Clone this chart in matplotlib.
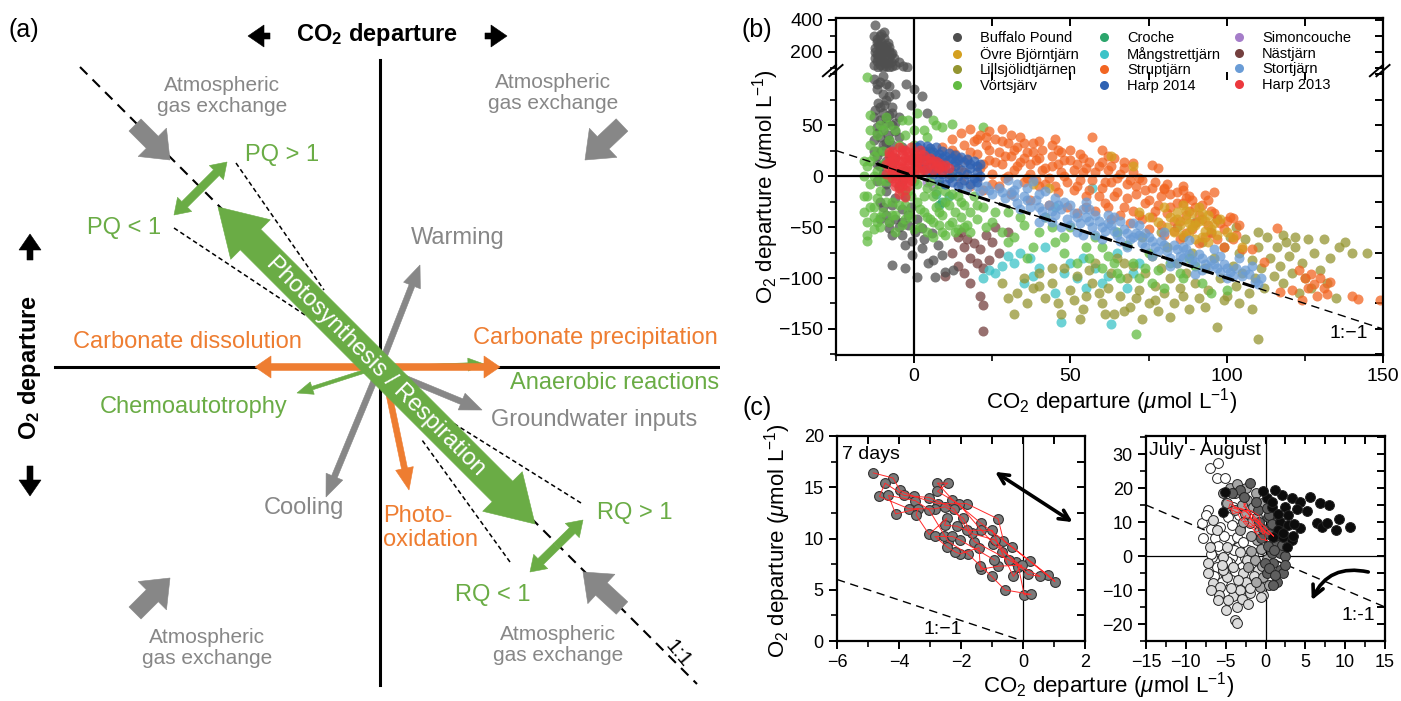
import numpy as np
import matplotlib.pyplot as plt
from matplotlib.patches import FancyArrow
from matplotlib.lines import Line2D
from matplotlib.ticker import MultipleLocator

plt.rcParams['font.family'] = ['Liberation Sans', 'DejaVu Sans']
plt.rcParams['mathtext.fontset'] = 'custom'
plt.rcParams['mathtext.rm'] = 'Liberation Sans'
plt.rcParams['mathtext.it'] = 'Liberation Sans:italic'
plt.rcParams['mathtext.bf'] = 'Liberation Sans:bold'
plt.rcParams['axes.linewidth'] = 1.6

GREEN = '#6aac45'
ORANGE = '#ee7d31'
GREY = '#878787'

# ---------------- panel (b): lakes, (CO2, O2) departures ----------------
buffalo_pound = [
    (-12.4, 369), (-9.8, 327), (-11, 300), (-9.5, 290), (-12, 280), (-10.5, 265), (-8.5, 255),
    (-11.5, 245), (-10, 235), (-12.5, 225), (-9, 220), (-11, 210), (-8, 205), (-10, 195),
    (-12, 190), (-7.5, 185), (-9.5, 175), (-11.5, 170), (-6.5, 165), (-10.5, 155), (-8.5, 150),
    (-12, 145), (-5, 135), (-9, 130), (-11, 120), (-3.5, 115), (-7, 110), (-2.3, 108), (-10, 104),
    (-13, 300), (-10.5, 310), (-12, 260), (-9, 245), (-11, 235), (-8, 230), (-12.5, 200),
    (-9.5, 205), (-7, 195), (-11, 180), (-8, 170), (-12.5, 160), (-10, 140), (-7.5, 140),
    (-13, 120), (-9, 115), (-6, 120), (-11.5, 105), (-8, 108),
    (-13, 95), (-11, 92), (-9, 90), (-12, 85), (-10, 80), (-8, 78), (-11.5, 72), (-9.5, 70),
    (-7, 68), (-12.5, 65), (-10, 62), (-8, 60), (-5, 58), (-11, 55), (-9, 52), (-7, 50),
    (-12, 48), (-10, 45), (-6, 44), (-8.5, 40), (-11, 38), (-13, 35), (-9, 32), (-7, 30),
    (-4, 28), (-10.5, 25), (-8, 22), (-12, 20), (-6, 18), (-9, 15), (-11, 10), (-7, 8),
    (-3, 5), (-10, 2), (-8, -2), (-12, -5), (-5, -10), (-9, -15), (-3, -20), (-11, -25),
    (-7, -28), (-4, -32), (-9, -38), (-6, -42), (-2, -38), (-1, -30), (-2.5, 90), (0, 85),
    (2.5, 78), (-1, 70), (4, 62), (-8.2, -51), (-4, -58), (-0.7, -77), (-7.1, -87), (-2.9, -90),
    (0.8, -99), (6.6, -99), (4.5, -85), (8.8, -77), (12.5, -92), (9.9, -94), (2.4, -71),
    (7.7, -68), (2.4, -51), (-4, -45), (-7.1, -58), (-0.7, -64), (5.6, -56), (0.3, -55),
    (-12, 90), (-10, 98), (-8, 88), (-6, 80), (-9, 75), (-11, 68), (-7, 62), (-13, 58),
    (-9, 57), (-6, 52), (-12, 42), (-8, 35), (-10, 30), (-13, 25), (-5, 38), (-7, 12),
    (-12, 12), (-4, -5), (-9, -8), (-10, -30), (-6, -22), (-8, -45), (-5, -50), (-11, -42),
    (-2, -48), (1, -42), (3, -62), (-3, -68), (6, -82),
]
ovre_bjorntjarn = [
    (80, -30), (82, -40), (84, -35), (85, -48), (86, -28), (87, -42), (88, -55), (89, -36),
    (90, -48), (91, -30), (92, -60), (93, -44), (94, -38), (95, -52), (96, -46), (83, -55),
    (81, -50), (97, -58), (98, -42), (92, -36), (88, -46), (86, -58), (90, -62), (94, -65),
    (100, -55), (78, -45), (75, -40), (72, -35), (38, -8), (43, -12), (63, 20), (70, 10),
    (105, -70), (102, -60), (84, -42), (89, -50), (93, -54), (87, -34), (91, -44),
]
lillsjolidtjarnen = [
    (30, -120), (32, -135), (35, -100), (38, -110), (40, -95), (42, -120), (44, -105), (46, -125),
    (48, -90), (50, -112), (52, -98), (54, -130), (55, -118), (57, -105), (58, -85), (60, -125),
    (62, -110), (63, -95), (64, -135), (65, -80), (66, -118), (68, -100), (69, -128), (70, -88),
    (72, -112), (73, -140), (74, -95), (75, -125), (76, -78), (77, -108), (78, -132), (79, -90),
    (80, -115), (81, -70), (82, -100), (83, -125), (84, -85), (85, -110), (86, -60), (87, -95),
    (88, -130), (89, -75), (90, -105), (91, -120), (92, -65), (93, -90), (94, -112), (95, -55),
    (96, -80), (97, -148), (98, -100), (99, -70), (100, -118), (101, -60), (102, -88), (103, -108),
    (104, -75), (105, -95), (106, -62), (107, -115), (108, -82), (109, -100), (110, -160),
    (110, -70), (111, -90), (112, -110), (113, -60), (114, -80), (115, -98), (116, -70),
    (117, -88), (118, -105), (119, -65), (120, -78), (121, -95), (122, -70), (124, -85),
    (125, -100), (126, -62), (128, -75), (130, -92), (131, -62), (133, -80), (135, -120),
    (136, -70), (138, -65), (140, -75), (145, -75), (127, -110), (123, -115), (132, -105),
    (44, -90), (56, -92), (67, -85), (73, -60), (79, -55), (84, -50), (90, -45), (97, -42),
    (103, -50), (110, -55), (118, -58), (122, -60), (28, -105), (33, -115), (36, -125),
    (40, -108), (47, -135), (51, -122), (53, -140), (59, -115), (61, -135), (67, -132),
    (71, -120), (77, -122), (82, -138), (86, -118), (93, -128), (99, -122), (104, -125),
    (108, -130),
]
vortsjarv = [
    (-16, 0), (-15, 10), (-14, -8), (-13, 20), (-15, -20), (-14, 30), (-13, -30), (-12, 5),
    (-12, 40), (-11, -15), (-11, 50), (-10, -35), (-10, 25), (-9, -5), (-9, 58), (-8, -45),
    (-8, 35), (-7, 15), (-7, -25), (-6, 45), (-6, -38), (-5, -10), (-5, 30), (-4, -48),
    (-4, 5), (-3, -28), (-3, 40), (-2, -15), (-2, 55), (-1, -40), (0, -5), (0, 30), (1, -25),
    (1, 62), (2, -50), (2, 8), (3, -35), (3, 45), (4, -12), (4, -55), (5, -42), (5, 25),
    (6, -20), (6, -60), (7, -30), (7, 50), (8, -48), (8, -8), (9, -38), (10, -15), (10, -58),
    (11, -28), (12, -45), (12, 0), (13, -35), (14, -20), (14, -52), (15, -40), (16, -28),
    (17, -48), (18, -35), (19, -20), (20, -42), (-16, -35), (-15, -58), (-15, -64), (-15, 97),
    (-14, 45), (-12, -45), (-16, 15), (-14, 60), (12, 51), (22, 48), (-13, 0), (-11, -40),
    (-15, -45), (-14, -30), (-13, -52), (-12, -22), (-11, -5), (-10, 12), (-9, -25), (-8, 0),
    (-7, -38), (-6, -55), (-5, -28), (-4, -15), (-3, -42), (-2, -35), (-1, -20), (0, -52),
    (1, -8), (2, -32), (3, -20), (4, -40), (5, -5), (6, -45), (7, -15), (8, -35), (9, -55),
    (10, -25), (11, -48), (12, -18), (13, -55), (15, -25), (16, -50), (18, -55), (20, -28),
    (-16, -20), (-14, 15), (-12, 25), (-10, 45), (-8, 50), (-4, 55), (0, 45), (4, 38),
    (6, 55), (9, 48), (-13, -40), (-11, -50),
    (22, -30), (25, -45), (28, -55), (30, -35), (32, -60), (35, -48), (38, -70), (40, -55),
    (42, -40), (45, -65), (48, -75), (50, -50), (52, -85), (55, -70), (58, -60), (60, -90),
    (62, -78), (65, -95), (68, -68), (70, -85), (72, -100), (75, -75), (78, -92), (80, -110),
    (85, -95), (88, -80), (95, -115), (65, -55), (71, -155), (23, -50), (26, -35), (30, -65),
    (34, -40), (36, -80), (44, -50), (48, -60), (56, -80), (60, -70), (64, -85), (66, -100),
    (74, -90), (76, -105), (82, -85), (86, -100), (90, -88), (92, -105), (100, -112),
]
croche = [(7, -18), (9, -25), (11, -20), (8, -28)]
mangstrettjarn = [
    (22, -100), (24, -92), (26, -95), (28, -88), (30, -78), (32, -85), (34, -75), (35, -105),
    (37, -80), (40, -90), (42, -70), (45, -115), (47, -143), (48, -95), (50, -85), (52, -100),
    (55, -110), (58, -90), (60, -105), (62, -98), (63, -145), (65, -75), (57, -12), (45, -30),
    (70, -95), (68, -110), (72, -85), (38, -98), (54, -80),
]
struptjarn = [
    (9, 28), (10, 14), (11, 2), (12, 36), (13, 22), (14, 8), (15, 42), (15, -6), (16, 30),
    (17, 16), (18, 46), (18, -10), (19, 34), (20, 22), (21, 40), (21, 8), (22, -14), (23, 30),
    (24, 44), (24, 16), (25, 2), (26, 36), (27, 24), (27, -10), (28, 46), (28, 12), (29, -2),
    (30, 32), (31, 20), (31, -18), (32, 6), (33, 28), (34, 38), (34, 14), (35, -6), (36, 24),
    (37, 2), (37, -24), (38, 32), (39, 16), (40, -10), (41, 26), (42, 8), (43, -2), (43, -28),
    (44, 20), (45, 36), (46, 12), (46, -16), (47, 24), (48, 0), (49, -30), (50, 16), (51, 6),
    (52, -10), (52, -36), (53, 22), (54, 4), (55, -20), (56, 14), (57, 38), (57, -4), (58, -34),
    (59, 10), (60, -12), (61, -26), (62, 6), (63, -6), (63, -42), (64, 18), (65, -16), (66, 2),
    (67, -30), (68, -8), (69, -46), (70, 4), (71, -18), (72, -38), (73, -4), (74, -26),
    (75, -52), (76, -12), (77, -34), (78, 8), (79, -20), (80, -58), (81, -8), (82, -30),
    (83, -44), (84, -16), (85, -62), (86, -26), (87, -38), (88, -20), (89, -52), (90, -30),
    (91, -66), (92, -42), (94, -24), (95, -56), (96, -36), (98, -46), (99, -70), (101, -40),
    (103, -58), (105, -72), (60, 26), (62, 20), (76, 11), (67, 14), (70, 13), (96, -16),
    (93, -19), (102, -41), (116, -51), (108, -72), (112, -84), (117, -114), (121, -112),
    (123, -92), (125, -100), (126, -110), (127, -96), (128, -106), (129, -118), (130, -100),
    (131, -110), (132, -116), (133, -104), (124, -122), (140, -118), (142, -121), (149, -122),
    (80, -13), (86, -14), (87, -22),
    (12, 26), (14, 18), (16, 4), (18, 24), (20, 36), (20, -2), (22, 12), (23, 38), (24, 26),
    (25, -8), (26, 14), (28, 34), (29, 20), (30, 0), (31, 40), (32, 26), (33, 10), (35, 32),
    (35, 18), (36, -2), (37, 12), (38, 24), (39, -4), (40, 34), (40, 18), (41, 6), (42, -8),
    (44, 30), (44, 10), (45, -10), (46, 26), (47, 4), (48, 16), (49, -6), (50, 26), (51, -14),
    (52, 12), (53, -4), (54, 18), (55, -30), (55, 8), (56, -14), (58, 4), (59, -20), (60, 14),
    (61, -6), (62, -30), (63, 10), (64, -20), (65, -2), (66, -38), (67, 8), (68, -22), (69, -4),
    (70, -34), (71, -10), (72, -2), (73, -42), (74, -14), (75, -24), (76, -40), (77, -6),
    (78, -28), (79, -48), (80, -12), (81, -36), (82, -18), (83, -54), (84, -26), (85, -44),
    (86, -10), (87, -56), (88, -34), (89, -24), (90, -46), (91, -38), (92, -28), (93, -60),
    (94, -48), (95, -34), (97, -42), (97, -62), (99, -52), (100, -44), (102, -62), (104, -48),
]
harp_2014 = [
    (1, 28), (2, 30), (3, 25), (4, 29), (5, 27), (6, 24), (7, 28), (8, 22), (9, 25), (10, 20),
    (11, 23), (12, 18), (13, 21), (14, 16), (15, 19), (16, 14), (17, 17), (18, 12), (19, 15),
    (20, 10), (21, 12), (2, 18), (3, 14), (4, 20), (5, 10), (6, 16), (7, 6), (8, 12), (9, 2),
    (10, 8), (11, -2), (12, 4), (13, 10), (14, 0), (15, 6), (16, -4), (17, 2), (18, 8),
    (19, -2), (20, 4), (21, 0), (6, 2), (8, -4), (10, -8), (12, -6), (14, -10), (18, -8),
    (20, -6), (4, 4), (3, 8), (13, 14), (11, 16), (9, 18), (7, 20),
]
simoncouche = [(4, -6), (6, -10)]
nastjarn = [
    (12, -75), (14, -60), (15, -55), (16, -70), (17, -62), (18, -80), (19, -66), (20, -85),
    (21, -72), (22, -90), (23, -58), (16, -95), (18, -105), (21, -118), (22, -126), (22, -152),
    (25, -65), (27, -75), (30, -55), (14, -88), (10, -98), (26, -50), (24, -82),
]
stortjarn = [
    (15, -8), (17, -12), (19, -5), (21, -15), (23, -10), (25, -18), (27, -12), (29, -22),
    (31, -16), (33, -26), (35, -20), (37, -30), (39, -24), (41, -34), (43, -28), (45, -38),
    (47, -32), (49, -42), (51, -36), (53, -46), (55, -40), (57, -50), (59, -44), (61, -54),
    (63, -48), (65, -58), (67, -52), (69, -62), (71, -56), (73, -66), (75, -60), (77, -70),
    (79, -64), (81, -74), (83, -68), (85, -78), (87, -72), (89, -82), (91, -76), (93, -86),
    (95, -82), (97, -90), (99, -86), (101, -94), (103, -90), (105, -98), (107, -96),
    (109, -104), (111, -100), (40, -18), (48, -25), (56, -32), (64, -40), (72, -48), (80, -55),
    (88, -63), (96, -72), (104, -80), (44, -45), (52, -55), (60, -62), (68, -70), (76, -78),
    (84, -85), (92, -92), (100, -100), (62, -38), (70, -46), (66, -64), (58, -58), (50, -48),
    (42, -40), (34, -32), (82, -88), (90, -96), (108, -88), (98, -78), (86, -70), (74, -56),
    (30, -4), (33, -8), (36, -12), (32, -20), (38, -5), (42, -15), (45, -22), (40, -45),
    (47, -50), (50, -28), (55, -25), (58, -38), (54, -58), (20, -10), (24, -14), (28, -16),
    (32, -14), (36, -24), (40, -30), (44, -34), (46, -28), (52, -40), (54, -32), (56, -44),
    (60, -50), (62, -46), (64, -54), (68, -56), (70, -60), (72, -58), (76, -64), (78, -74),
    (80, -68), (84, -72), (86, -80), (88, -76), (92, -80), (94, -90), (96, -86), (100, -90),
    (102, -98), (106, -92), (110, -106), (66, -44), (74, -70), (82, -80), (90, -84), (98, -94),
]
harp_2013 = [
    (-8, 20), (-7, 25), (-6, 18), (-5, 28), (-4, 22), (-3, 26), (-2, 20), (-1, 28), (0, 24),
    (1, 18), (2, 26), (3, 21), (4, 16), (5, 12), (6, 15), (7, 10), (8, 13), (10, 11), (11, 8),
    (-9, 12), (-8, 8), (-7, 14), (-6, 5), (-5, 10), (-4, 15), (-3, 8), (-2, 12), (-1, 5),
    (0, 14), (1, 8), (2, 12), (3, 6), (-6, 0), (-5, -4), (-4, 2), (-3, -2), (-2, -6), (-4, -10),
    (-3, -14), (-5, -18), (-3, -21), (-1, 0), (0, 2), (-7, -2), (-2, 16), (4, 8), (6, 6),
    (9, 5), (-9, 2), (-6, -10), (-8, 24), (-6, 22), (-4, 26), (-2, 24), (0, 20), (2, 22),
    (-7, 18), (-5, 15), (-3, 18), (-1, 16), (1, 14), (3, 16), (5, 18), (7, 15), (-8, 14),
    (-6, 10), (-4, 8), (-2, 6), (0, 8), (2, 4), (-5, 4), (-3, 0), (-1, -4), (-4, -6), (-5, -12),
    (-2, -10), (-6, -6), (-7, 4), (9, 10), (8, 8),
]

lake_names = ['Buffalo Pound', 'Övre Björntjärn', 'Lillsjölidtjärnen', 'Vörtsjärv',
              'Croche', 'Mångstrettjärn', 'Struptjärn', 'Harp 2014',
              'Simoncouche', 'Nästjärn', 'Stortjärn', 'Harp 2013']
lake_data = [buffalo_pound, ovre_bjorntjarn, lillsjolidtjarnen, vortsjarv,
             croche, mangstrettjarn, struptjarn, harp_2014,
             simoncouche, nastjarn, stortjarn, harp_2013]
lake_colors = ['#4f4f4f', '#d4a020', '#949531', '#62bb42',
               '#2ca56c', '#3cc3c8', '#f26522', '#2f62b3',
               '#a57dc9', '#74403f', '#6a9cd6', '#ec383d']
draw_order = [8, 4, 9, 5, 0, 2, 3, 6, 1, 10, 7, 11]

# ---------------- panel (c): 7 days (time order) ----------------
week_co2 = [-4.83, -4.19, -3.97, -3.52, -2.73, -1.82, -0.80, -0.63, 0.21, 1.03,
            0.82, -0.36, -1.36, -2.28, -2.76, -2.43, -2.76,
            -2.08, -1.34, -0.96, -0.21, 0.15, 0.55,
            -0.45, -1.57, -2.22, -3.02, -3.84, -4.45,
            -4.63, -3.68, -2.84, -2.51, -1.92, -1.66, -0.90, -0.15, 0.04,
            0.26, -0.58, -1.01, -1.78, -2.41, -3.03, -3.48, -4.34,
            -4.11, -3.38, -3.45, -3.03, -2.46, -2.53, -2.14, -1.82, -0.99, -0.69, -0.31, -0.04,
            -0.80, -1.35, -1.38, -1.42, -2.03, -2.19, -2.46, -2.84, -2.55, -2.28, -2.03, -0.92]
week_o2 = [16.4, 15.9, 14.7, 14.1, 13.4, 13.4, 11.9, 9.8, 7.8, 5.8,
           6.4, 9.2, 11.5, 13.8, 15.4, 15.4, 14.6,
           13.4, 10.8, 9.5, 7.7, 6.5, 6.3,
           7.9, 9.7, 12.9, 14.0, 14.2, 15.4,
           14.1, 12.9, 12.9, 13.1, 11.97, 10.5, 9.85, 7.25, 4.5,
           4.55, 4.98, 6.3, 8.5, 9.7, 12.8, 13.7, 14.2,
           12.4, 12.9, 12.3, 10.4, 11.97, 11.3, 11.2, 10.8, 10.8, 8.7, 6.3, 7.4,
           7.3, 7.0, 7.3, 9.1, 8.5, 8.7, 9.2, 10.2, 10.2, 10.2, 9.85, 7.9]

# July - August, grouped by shade (light = early, dark = late)
summer_white = [(-6.97, 25.8), (-5.92, 27.3), (-6.13, 22.9), (-5.08, 22.9), (-7.18, 13.5),
                (-8.0, 9.6), (-7.8, 5.2), (-6.34, 5.2), (-5.71, 8.6), (-4.67, 11.6), (-4.45, 4.7),
                (-5.71, 1.8), (-6.76, -0.2), (-4.25, -0.2), (-3.41, 2.75), (-2.15, 1.8),
                (-1.53, 0.3), (-4.45, -2.2), (-3.0, -3.1), (-6.13, -3.1), (-5.08, -5.1),
                (-1.74, -2.2), (-3.2, 8.6), (-4.04, 14.5), (-3.6, 5.5), (-2.6, -0.5),
                (-7.5, 12), (-6.8, 8), (-6, 3), (-5.2, 6), (-4.8, -1.5), (-3.8, -4.5),
                (-6.5, -6), (-5.5, -7.5), (-4.2, 9), (-3.3, 12), (-5, 15.5), (-2.8, 4),
                (-6.9, 0.5), (-4, 1.8)]
summer_light = [(-6.55, 10.6), (-6.13, 7.7), (-7.18, -5.1), (-6.55, -8.0), (-5.71, -9.0),
                (-4.88, -6.1), (-4.04, -11.9), (-4.67, -12.9), (-3.62, -14.9), (-3.2, -10.0),
                (-1.32, -8.0), (-1.95, -10.9), (-0.27, -11.5), (-3.82, -18.8), (-3.62, -19.8),
                (-5.29, -4.1), (-4.04, -3.1), (-2.78, -5.1), (-4.88, 2.75), (-5.29, -0.2),
                (-6.97, 2.75), (-3.2, 1.3), (-2.36, -1.2), (-2.5, -7.5), (-5.8, -11.5),
                (-6, -13), (-5, -16), (-4.3, -9.5), (-3, -12.5), (-2.2, -14), (-1, -4),
                (-0.6, -12), (-1.5, -6), (-6.8, -10), (-7.2, -2), (-5.5, -2.5), (-3.5, -7),
                (-2, -9.5)]
summer_grey = [(-4.45, 19.9), (-5.29, 18.4), (-3.82, 18.4), (-2.36, 16.5), (-1.53, 14.5),
               (-1.95, 9.6), (-3.2, 7.7), (-1.11, 4.7), (-1.32, -1.2), (-0.27, -6.1),
               (-0.69, -9.0), (-2.15, -3.1), (-3.6, 21.3), (-1.1, 11.6), (-0.6, 2.0), (-2.6, 12.5),
               (-4.8, 15.5), (-3.8, 13.5), (-2.5, 20), (-1.2, 18.5), (-0.5, 15.5), (-2.8, 10),
               (-0.8, 7.5), (-1.8, 1.5), (-0.4, -3), (-1.2, -7.5), (0.4, -8.5), (-2.9, 15),
               (-1.8, 6), (0.2, -1)]
summer_dark = [(-3.2, 19.4), (-1.95, 21.4), (-0.9, 13.5), (0.36, 11.5), (1.2, 8.6), (1.4, 3.7),
               (0.8, 0.8), (1.0, -2.2), (1.8, -4.1), (1.4, -7.5), (0.16, -5.1), (-0.6, 5.2),
               (-0.05, -2.2), (0.5, 12.0), (1.5, 10.0), (1.2, 6.0), (0.3, 3.0), (2.2, -5.0),
               (1.8, 1.0), (-0.3, 8.0), (2.5, 0.0), (-4.2, 18.5), (-2.7, 17.5), (-1.2, 16),
               (0.2, 14), (0.8, 9.5), (1.9, 7.5), (2.1, 3.2), (1.1, 1.8), (0.5, -3.5),
               (1.2, -5.5), (2.4, -2.5), (0.4, 6.5), (-0.8, 10), (0.9, -8.5)]
summer_black = [(2.03, 17.9), (3.28, 17.0), (4.33, 16.0), (5.58, 17.5), (6.84, 15.7), (8.0, 15.0),
                (2.45, 14.3), (3.91, 13.7), (5.16, 13.3), (6.5, 9.6), (7.05, 8.6), (7.67, 9.6),
                (9.26, 10.8), (10.6, 8.6), (8.9, 7.65), (4.33, 8.1), (1.82, 10.1), (2.86, 9.1),
                (3.28, 4.7), (2.66, 2.75), (0.16, 17.0), (0.79, 14.5), (1.62, 7.65), (1.0, 5.7),
                (2.24, 5.7), (-5.1, 18.9), (-5.3, 13.0), (0.8, 16), (1.6, 12.5), (2.8, 12),
                (3.6, 9.5), (2.2, 6.8), (3.5, 6), (-0.3, 19), (1.2, 19.5)]
summer_groups = [summer_white, summer_light, summer_grey, summer_dark, summer_black]
summer_shades = ['#ffffff', '#dcdcdc', '#a6a6a6', '#5e5e5e', '#0c0c0c']

W, H = 1401, 701
fig = plt.figure(figsize=(W / 100, H / 100), dpi=100)


def fbox(left, top, right, bottom):
    return [left / W, 1 - bottom / H, (right - left) / W, (bottom - top) / H]


# ======================= panel (a): conceptual diagram =======================
ax = fig.add_axes([0, 0, 720 / W, 1])
ax.set_xlim(-380, 340)
ax.set_ylim(-334, 367)
ax.axis('off')


def block(p0, p1, color, w, hw, hl, both=False, z=3):
    if both:
        mid = ((p0[0] + p1[0]) / 2, (p0[1] + p1[1]) / 2)
        block(mid, p1, color, w, hw, hl, z=z)
        block(mid, p0, color, w, hw, hl, z=z)
        return
    ax.add_patch(FancyArrow(p0[0], p0[1], p1[0] - p0[0], p1[1] - p0[1], width=w,
                            head_width=hw, head_length=hl, length_includes_head=True,
                            fc=color, ec=color, lw=0.4, zorder=z))


ax.plot([0, 0], [307, -318], color='k', lw=2.2, zorder=1)
ax.plot([-325, 340], [0, 0], color='k', lw=2.2, zorder=1)
ax.plot([-300, 317], [300, -317], color='k', lw=1.5, ls=(0, (5, 3.5)), zorder=1)

# PQ / RQ guide lines
for (p, q) in [((-144, 204), (-56, 77)), ((-206, 139), (-75, 52)),
               ((201, -136), (65, -51)), ((130, -195), (42, -73))]:
    ax.plot([p[0], q[0]], [p[1], q[1]], color='k', lw=1.1, ls=(0, (3, 2)), zorder=1)

atmos_arrows = [((-245, 242), (-210, 207)), ((242, 242), (205, 207)),
                ((-245, -246), (-210, -211)), ((242, -241), (203, -205))]
atmos_text = [(-158, 271), (173, 274), (-173, -281), (178, -278)]
for (p, q), t in zip(atmos_arrows, atmos_text):
    block(p, q, GREY, 17, 40, 25)
    ax.text(t[0], t[1], 'Atmospheric\ngas exchange', color=GREY, fontsize=15,
            ha='center', va='center', linespacing=1.15)

processes = [
    ('Warming', (2, 5), (40, 102), GREY, 6, 18, 22, (31, 129)),
    ('Cooling', (4, 10), (-54, -130), GREY, 6, 18, 22, (-116, -141)),
    ('Groundwater inputs', (10, -5), (102, -43), GREY, 6, 18, 22, (111, -53)),
    ('Photo-\noxidation', (5, -8), (29, -123), ORANGE, 6, 18, 22, (3, -161)),
    ('Chemoautotrophy', (-5, -1), (-83, -26), GREEN, 3.5, 13, 16, (-280, -40)),
    ('Anaerobic reactions', (-5, -1), (104, 3), GREEN, 3.5, 13, 16, (130, -16)),
]
for label, p, q, col, w, hw, hl, t in processes:
    block(p, q, col, w, hw, hl, z=2)
    ax.text(t[0], t[1], label, color=col, fontsize=17, ha='left', va='center',
            linespacing=1.1)

block((-125, 0), (120, 0), ORANGE, 7, 22, 16, both=True, z=2)
ax.text(-307, 25, 'Carbonate dissolution', color=ORANGE, fontsize=17, ha='left', va='center')
ax.text(93, 29, 'Carbonate precipitation', color=ORANGE, fontsize=17, ha='left', va='center')

block((-206, 152), (-153, 205), GREEN, 8, 20, 15, both=True)
block((150, -205), (203, -153), GREEN, 8, 20, 15, both=True)
ax.text(-135, 212, 'PQ > 1', color=GREEN, fontsize=17, ha='left', va='center')
ax.text(-293, 139, 'PQ < 1', color=GREEN, fontsize=17, ha='left', va='center')
ax.text(217, -146, 'RQ > 1', color=GREEN, fontsize=17, ha='left', va='center')
ax.text(75, -228, 'RQ < 1', color=GREEN, fontsize=17, ha='left', va='center')

block((-162, 160), (155, -157), GREEN, 29, 56, 46, both=True, z=4)
ax.text(-4, 1, 'Photosynthesis / Respiration', color='white', fontsize=17, rotation=-45,
        ha='center', va='center', rotation_mode='anchor', zorder=5)
ax.text(298, -287, '1:1', fontsize=15, rotation=-50, ha='center', va='center')

ax.text(-3, 332, r'CO$_{\mathbf{2}}$ departure', fontsize=17, fontweight='bold',
        ha='center', va='center')
block((-110, 331), (-132, 331), 'k', 6, 22, 16)
block((105, 331), (127, 331), 'k', 6, 22, 16)
ax.text(-350, 0, r'O$_{\mathbf{2}}$ departure', fontsize=17, fontweight='bold',
        ha='center', va='center', rotation=90)
block((-350, 107), (-350, 133), 'k', 6, 22, 16)
block((-350, -99), (-350, -129), 'k', 6, 22, 16)
fig.text(8 / W, 1 - 30 / H, '(a)', fontsize=18, ha='left', va='center')


# ======================= helpers for data panels =======================
def mirror_ticks(a, xmaj, xmin, ymaj, ymin):
    a.xaxis.set_major_locator(MultipleLocator(xmaj))
    a.xaxis.set_minor_locator(MultipleLocator(xmin))
    a.yaxis.set_major_locator(MultipleLocator(ymaj))
    a.yaxis.set_minor_locator(MultipleLocator(ymin))
    a.tick_params(which='major', direction='out', length=6, width=1.4)
    a.tick_params(which='minor', direction='out', length=4, width=1.2)
    sx = a.secondary_xaxis('top')
    sx.xaxis.set_major_locator(MultipleLocator(xmin))
    sx.tick_params(direction='in', length=6, width=1.4, labeltop=False)
    sx.spines['top'].set_visible(False)
    sy = a.secondary_yaxis('right')
    sy.yaxis.set_major_locator(MultipleLocator(ymin))
    sy.tick_params(direction='in', length=6, width=1.4, labelright=False)
    sy.spines['right'].set_visible(False)
    return sx, sy


# ======================= panel (b) =======================
ax_hi = fig.add_axes(fbox(836, 18, 1383, 72))
ax_lo = fig.add_axes(fbox(836, 72, 1383, 355))
for a in (ax_hi, ax_lo):
    a.set_xlim(-25, 150)
ax_hi.set_ylim(75, 412)
ax_lo.set_ylim(-175.5, 102)

Y_SPLIT = 102
for i in draw_order:
    pts = np.array(lake_data[i], dtype=float)
    hi = pts[:, 1] >= Y_SPLIT
    ax_lo.scatter(pts[~hi, 0], pts[~hi, 1], s=52, color=lake_colors[i], alpha=0.75,
                  linewidths=0, zorder=2)
    if hi.any():
        ax_hi.scatter(pts[hi, 0], pts[hi, 1], s=52, color=lake_colors[i], alpha=0.75,
                      linewidths=0, zorder=2)

line_x = np.array([-25, 150])
ax_lo.plot(line_x, -line_x, color='k', lw=1.0, ls=(0, (6, 4)), zorder=4)
ax_lo.plot([-12, 110], [12, -110], color='k', lw=2.2, ls=(0, (4, 3)), zorder=4)
ax_lo.axhline(0, color='k', lw=1.6, zorder=3)
ax_lo.axvline(0, color='k', lw=1.6, zorder=3)
ax_hi.axvline(0, color='k', lw=1.6, zorder=3)
ax_lo.text(139, -154, '1:−1', fontsize=14, ha='center', va='center')

ax_hi.spines['bottom'].set_visible(False)
ax_lo.spines['top'].set_visible(False)
mirror_ticks(ax_lo, 50, 25, 50, 25)
ax_lo.set_xticks([0, 50, 100, 150])
ax_lo.set_yticks([-150, -100, -50, 0, 50])
ax_lo.tick_params(labelsize=14)
ax_hi.yaxis.set_major_locator(MultipleLocator(200))
ax_hi.yaxis.set_minor_locator(MultipleLocator(100))
ax_hi.set_yticks([200, 400])
ax_hi.tick_params(axis='y', which='major', direction='out', length=6, width=1.4, labelsize=14)
ax_hi.tick_params(axis='y', which='minor', direction='out', length=4, width=1.2)
ax_hi.tick_params(axis='x', bottom=False, labelbottom=False, top=True, direction='in',
                  length=6, width=1.4)
ax_hi.xaxis.set_major_locator(MultipleLocator(25))
ax_hi.tick_params(axis='y', which='both', right=False)
hy = ax_hi.secondary_yaxis('right')
hy.yaxis.set_major_locator(MultipleLocator(100))
hy.tick_params(direction='in', length=6, width=1.4, labelright=False)
hy.spines['right'].set_visible(False)

# axis-break marks
for xa in (0, 1):
    for dx in (-0.012, 0.0):
        ax_lo.plot([xa + dx - 0.012, xa + dx + 0.012], [0.985, 1.025], color='k', lw=1.4,
                   transform=ax_lo.transAxes, clip_on=False, zorder=6)

ax_lo.set_xlabel(r'CO$_2$ departure ($\mu$mol L$^{-1}$)', fontsize=16, va='center')
ax_lo.xaxis.set_label_coords(0.503, -0.166)
ax_lo.set_ylabel(r'O$_2$ departure ($\mu$mol L$^{-1}$)', fontsize=16, va='center')
ax_lo.yaxis.set_label_coords(-0.128, 0.594)
fig.text(757 / W, 1 - 30 / H, '(b)', fontsize=18, ha='center', va='center')

# legend: three columns
for col in range(3):
    idx = range(col * 4, col * 4 + 4)
    handles = [Line2D([], [], marker='o', ls='none', markersize=6.5,
                      markerfacecolor=lake_colors[i], markeredgewidth=0) for i in idx]
    labels = [lake_names[i] for i in idx]
    x_left = [949.7, 1096.7, 1231.7][col]
    fig.legend(handles, labels, loc='upper left', bbox_to_anchor=(x_left / W, 1 - 31 / H),
               frameon=False, borderpad=0, borderaxespad=0, handlelength=1.0,
               handletextpad=1.07, labelspacing=0.12, fontsize=10.5)

# ======================= panel (c) =======================
ax_c1 = fig.add_axes(fbox(837, 436, 1085, 641))
ax_c1.set_xlim(-6, 2)
ax_c1.set_ylim(0, 20)
ax_c1.axvline(0, color='k', lw=0.9, zorder=1)
ax_c1.plot([-6, 0], [6, 0], color='k', lw=1.0, ls=(0, (6, 4)), zorder=1)
ax_c1.scatter(week_co2, week_o2, s=50, color='#7a7a7a', edgecolors='#333333',
              linewidths=0.8, zorder=2)
ax_c1.plot(week_co2, week_o2, color='#ff2a2a', lw=0.7, zorder=3)
ax_c1.annotate('', xy=(-0.9, 16.5), xytext=(1.6, 11.6),
               arrowprops=dict(arrowstyle='<->', lw=2.6, color='k', mutation_scale=18,
                               shrinkA=0, shrinkB=0))
ax_c1.text(-5.85, 18.2, '7 days', fontsize=14, ha='left', va='center')
ax_c1.text(-2.6, 1.1, '1:−1', fontsize=14, ha='center', va='center')
mirror_ticks(ax_c1, 2, 1, 5, 2.5)
ax_c1.tick_params(labelsize=13)
ax_c1.set_ylabel(r'O$_2$ departure ($\mu$mol L$^{-1}$)', fontsize=16, va='center')
ax_c1.yaxis.set_label_coords(-0.238, 0.49)

ax_c2 = fig.add_axes(fbox(1146, 436, 1385, 641))
ax_c2.set_xlim(-15, 15)
ax_c2.set_ylim(-25, 35.3)
ax_c2.axvline(0, color='k', lw=0.9, zorder=1)
ax_c2.axhline(0, color='k', lw=0.9, zorder=1)
ax_c2.plot([-15, 15], [15, -15], color='k', lw=1.0, ls=(0, (6, 4)), zorder=1)
for grp, shade in zip(summer_groups, summer_shades):
    g = np.array(grp)
    ax_c2.scatter(g[:, 0], g[:, 1], s=50, color=shade, edgecolors='#222222',
                  linewidths=0.7, zorder=2)
ax_c2.plot(week_co2, week_o2, color='#ff2a2a', lw=0.6, zorder=3)
ax_c2.annotate('', xy=(5.8, -13), xytext=(12.9, -4.7),
               arrowprops=dict(arrowstyle='->', lw=2.6, color='k', mutation_scale=20,
                               connectionstyle='arc3,rad=0.4', shrinkA=0, shrinkB=0))
ax_c2.text(-14.6, 31, 'July - August', fontsize=14, ha='left', va='center')
ax_c2.text(11.7, -17.4, '1:-1', fontsize=14, ha='center', va='center')
mirror_ticks(ax_c2, 5, 2.5, 10, 5)
ax_c2.tick_params(labelsize=13)

fig.text(1109 / W, 1 - 686 / H, r'CO$_2$ departure ($\mu$mol L$^{-1}$)', fontsize=16,
         ha='center', va='center')
fig.text(757 / W, 1 - 408 / H, '(c)', fontsize=18, ha='center', va='center')

fig.savefig('out.png', dpi=100)
